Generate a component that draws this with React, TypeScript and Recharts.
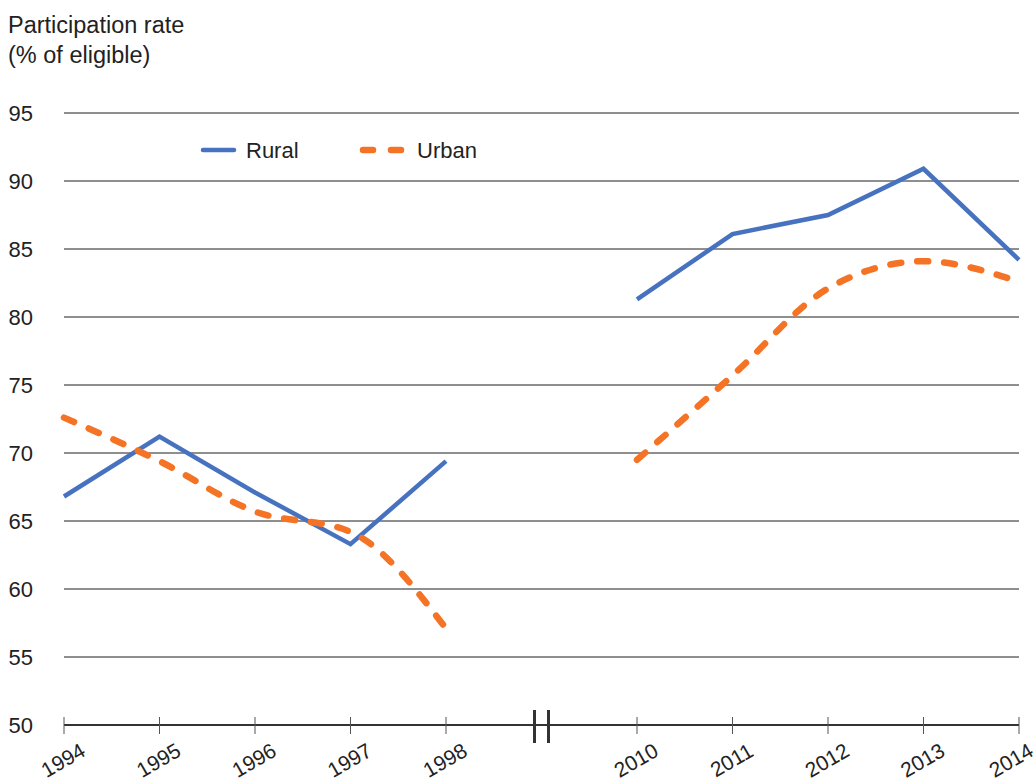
import React from 'react';
import { LineChart, Line, XAxis, YAxis, CartesianGrid, Legend } from 'recharts';

const years = ['1994', '1995', '1996', '1997', '1998', '', '2010', '2011', '2012', '2013', '2014'];
const rural = [66.8, 71.2, 67.1, 63.3, 69.4, null, 81.3, 86.1, 87.5, 90.9, 84.2];
const urban = [72.6, 69.4, 65.7, 64.2, 57.1, null, 69.5, 75.7, 82.1, 84.1, 82.6];
const yTicks = [50, 55, 60, 65, 70, 75, 80, 85, 90, 95];
const titleLines = ['Participation rate', '(% of eligible)'];

const data = years.map((y, i) => ({ year: y, Rural: rural[i], Urban: urban[i] }));

const FONT = '"Liberation Sans", Arial, Helvetica, sans-serif';
const BLUE = '#4672C0';
const ORANGE = '#F47325';
const TEXT = '#222';
const CHART_W = 1036;

const XTick = (props: any) => {
  const { x, y, payload } = props;
  if (payload.value === '') {
    return (
      <g>
        <line x1={x - 7} x2={x - 7} y1={y - 15} y2={y + 18} stroke="#333" strokeWidth={3} />
        <line x1={x + 7} x2={x + 7} y1={y - 15} y2={y + 18} stroke="#333" strokeWidth={3} />
      </g>
    );
  }
  // keep the rotated label inside the picture's right edge
  const cx = Math.min(x - 1, CHART_W - 25);
  const cy = y + 35;
  return (
    <g>
      <line x1={x} x2={x} y1={y - 8} y2={y + 9} stroke="#555" strokeWidth={1} />
      <text
        x={cx}
        y={cy}
        textAnchor="middle"
        dominantBaseline="central"
        transform={`rotate(-30, ${cx}, ${cy})`}
        fontFamily={FONT}
        fontSize={21}
        fill={TEXT}
      >
        {payload.value}
      </text>
    </g>
  );
};

const renderLegend = (props: any) => {
  const payload = props.payload || [];
  const items = payload.map((p: any) => p.value);
  return (
    <svg width={500} height={40} style={{ display: 'block' }}>
      {items.includes('Rural') && (
        <g>
          <line x1={203} x2={234} y1={20} y2={20} stroke={BLUE} strokeWidth={4.5} strokeLinecap="round" />
          <text x={246} y={28} fontFamily={FONT} fontSize={22} fill={TEXT}>Rural</text>
        </g>
      )}
      {items.includes('Urban') && (
        <g>
          <line x1={363} x2={401} y1={20} y2={20} stroke={ORANGE} strokeWidth={6.5} strokeLinecap="round" strokeDasharray="10 18" />
          <text x={417} y={28} fontFamily={FONT} fontSize={22} fill={TEXT}>Urban</text>
        </g>
      )}
    </svg>
  );
};

export default function App() {
  return (
    <div style={{ position: 'absolute', left: 0, top: 0, width: CHART_W, height: 783, background: '#fff' }}>
      <div
        style={{
          position: 'absolute',
          left: 8,
          top: 10,
          fontFamily: FONT,
          fontSize: 23.5,
          lineHeight: '30px',
          color: TEXT,
          whiteSpace: 'pre',
          zIndex: 2,
        }}
      >
        {titleLines.map((t) => (
          <div key={t}>{t}</div>
        ))}
      </div>
      <LineChart width={CHART_W} height={783} data={data} margin={{ top: 113, right: 17, bottom: 0, left: 0 }}>
        <CartesianGrid horizontal vertical={false} stroke="#1e1e1e" strokeWidth={1} />
        <XAxis
          dataKey="year"
          height={58}
          interval={0}
          axisLine={{ stroke: '#333', strokeWidth: 2 }}
          tickLine={false}
          tickSize={0}
          tickMargin={0}
          tick={<XTick />}
        />
        <YAxis
          domain={[50, 95]}
          ticks={yTicks}
          width={64}
          axisLine={false}
          tickLine={false}
          tickSize={0}
          tickMargin={31}
          tick={{ fontFamily: FONT, fontSize: 22, fill: TEXT }}
        />
        <Legend
          layout="horizontal"
          verticalAlign="middle"
          align="center"
          content={renderLegend}
          wrapperStyle={{ position: 'absolute', left: 0, top: 130, width: 500, height: 40 }}
        />
        <Line
          type="linear"
          dataKey="Rural"
          stroke={BLUE}
          strokeWidth={4.5}
          dot={false}
          activeDot={false}
          connectNulls={false}
          isAnimationActive={false}
        />
        <Line
          type="monotone"
          dataKey="Urban"
          stroke={ORANGE}
          strokeWidth={6.5}
          strokeDasharray="11 16"
          strokeLinecap="round"
          dot={false}
          activeDot={false}
          connectNulls={false}
          isAnimationActive={false}
        />
      </LineChart>
    </div>
  );
}
